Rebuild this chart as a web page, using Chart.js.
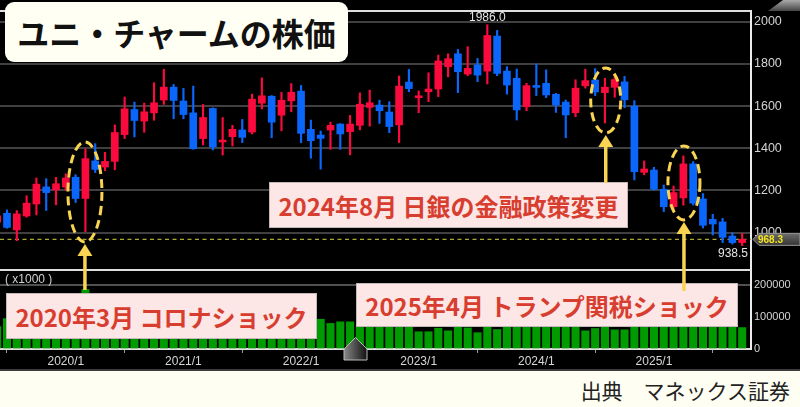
<!DOCTYPE html>
<html><head><meta charset="utf-8">
<script src="https://cdn.jsdelivr.net/npm/chart.js@4.4.1/dist/chart.umd.min.js"></script>
<style>
html,body{margin:0;padding:0;background:#fffef3;}
#stage{position:relative;width:800px;height:407px;overflow:hidden;background:#fffef3;}
#c{position:absolute;left:0;top:0;background:#000;z-index:1;}
#ov{position:absolute;left:0;top:0;z-index:3;pointer-events:none;}
#sep{position:absolute;left:0;top:368px;width:800px;height:3px;background:#3c3c3c;}
.note{position:absolute;z-index:2;background:#fce6e6;border:1px solid #c2b8b8;box-sizing:border-box;color:#d83e2f;font-family:"Noto Sans CJK JP",sans-serif;font-weight:700;font-size:24px;display:flex;align-items:center;justify-content:center;white-space:nowrap;}
#title{position:absolute;z-index:2;left:5px;top:2px;width:343px;height:60px;background:#fffff3;border-radius:9px;font-family:"Noto Sans CJK JP",sans-serif;font-weight:700;font-size:32px;color:#111;display:flex;align-items:center;justify-content:center;white-space:nowrap;}
#src{position:absolute;right:10px;top:376px;font-family:"Noto Sans CJK JP",sans-serif;font-size:21px;color:#222;line-height:28px;white-space:pre;}
#unit{position:absolute;left:5px;top:271px;font-family:"Liberation Sans",Arial,sans-serif;font-size:12px;color:#d0d0d0;z-index:2;line-height:16px;white-space:pre;}
</style></head>
<body><div id="stage">
<canvas id="c" width="800" height="369"></canvas>
<div id="sep"></div>
<div id="title">ユニ・チャームの株価</div>
<div class="note" style="left:6px;top:293px;width:311px;height:46px">2020年3月 コロナショック</div>
<div class="note" style="left:269px;top:182px;width:359px;height:46px">2024年8月 日銀の金融政策変更</div>
<div class="note" style="left:356px;top:283px;width:382px;height:44px">2025年4月 トランプ関税ショック</div>
<div id="unit">( x1000 )</div>
<canvas id="ov" width="800" height="369"></canvas>
<div id="src">出典　マネックス証券</div>
</div>
<script>
const months = [
'2019/6','2019/7','2019/8','2019/9','2019/10','2019/11','2019/12',
'2020/1','2020/2','2020/3','2020/4','2020/5','2020/6','2020/7','2020/8','2020/9','2020/10','2020/11','2020/12',
'2021/1','2021/2','2021/3','2021/4','2021/5','2021/6','2021/7','2021/8','2021/9','2021/10','2021/11','2021/12',
'2022/1','2022/2','2022/3','2022/4','2022/5','2022/6','2022/7','2022/8','2022/9','2022/10','2022/11','2022/12',
'2023/1','2023/2','2023/3','2023/4','2023/5','2023/6','2023/7','2023/8','2023/9','2023/10','2023/11','2023/12',
'2024/1','2024/2','2024/3','2024/4','2024/5','2024/6','2024/7','2024/8','2024/9','2024/10','2024/11','2024/12',
'2025/1','2025/2','2025/3','2025/4','2025/5','2025/6','2025/7','2025/8','2025/9','2025/10'];
const opens = [
1050, 1092,1013,1079,1136,1217,1203,
1216,1263,1162,1340,1311,1338,1465,1584,1529,1568,1629,1690,
1624,1568,1446,1589,1430,1455,1487,1477,1614,1647,1557,1625,
1671,1490,1463,1487,1515,1479,1509,1594,1605,1572,1511,1714,
1640,1668,1681,1787,1848,1752,1795,1766,1932,1766,1732,1597,
1698,1708,1656,1619,1569,1696,1724,1664,1689,1715,1600,1286,
1297,1206,1123,1165,1326,1160,1063,1051,984,953];
const highs = [
1100, 1108,1105,1175,1259,1256,1262,
1279,1275,1397,1422,1381,1511,1643,1619,1614,1711,1775,1703,
1684,1695,1608,1592,1546,1509,1537,1657,1734,1650,1665,1707,
1698,1534,1482,1524,1517,1556,1663,1676,1628,1621,1743,1774,
1672,1758,1842,1848,1869,1882,1826,1986,1959,1787,1776,1708,
1800,1772,1661,1629,1725,1775,1778,1732,1750,1741,1626,1340,
1310,1226,1221,1364,1337,1185,1087,1068,1000,997];
const lows = [
1035, 1021,962,1073,1084,1105,1132,
1200,1143,1005,1285,1294,1298,1446,1454,1476,1533,1608,1540,
1540,1395,1416,1392,1368,1411,1427,1468,1587,1450,1483,1573,
1427,1353,1301,1395,1395,1369,1487,1505,1518,1474,1427,1668,
1569,1621,1645,1739,1664,1744,1716,1705,1744,1657,1534,1578,
1650,1640,1570,1450,1550,1685,1650,1520,1642,1592,1250,1274,
1202,1100,1108,1130,1131,1022,989,953,946,938.5];
const closes = [
1080, 1025,1089,1140,1230,1190,1232,
1259,1162,1351,1300,1338,1475,1587,1532,1573,1616,1690,1627,
1560,1398,1546,1406,1439,1490,1452,1633,1649,1524,1628,1666,
1471,1436,1447,1509,1468,1515,1609,1616,1578,1503,1695,1683,
1649,1681,1814,1825,1763,1779,1747,1935,1755,1700,1582,1697,
1689,1653,1605,1558,1685,1721,1667,1690,1726,1630,1289,1302,
1206,1123,1190,1326,1140,1035,1041,978,953,968.3];
const volumes = [
70000, 95000,110000,90000,100000,85000,90000,
95000,120000,186000,130000,100000,110000,120000,95000,90000,100000,105000,90000,
95000,125000,110000,100000,95000,85000,90000,100000,95000,110000,95000,85000,
120000,110000,93000,80000,85000,85000,80000,80000,78000,80000,75000,80000,
54000,54000,65000,57000,75000,66000,51000,80000,61000,72000,80000,70000,
72000,75000,70000,80000,75000,57000,64000,120000,60000,60000,140000,80000,
90000,85000,80000,150000,100000,110000,90000,95000,80000,67000];
const priceTicks = [1000,1200,1400,1600,1800,2000];
const volumeTicks = [0,100000,200000];
const yearTicks = months.map((m,j)=>m.endsWith('/1')?j:-1).filter(j=>j>=0);

// annotation marks (index on x scale, price centre, ellipse radii in px)
const events = [
  {idx: 8.95, price: 1193, rx: 17, ry: 50, arrowEnd: 290},
  {idx: 62.08, price: 1627, rx: 15, ry: 32.5, arrowEnd: 183},
  {idx: 70.06, price: 1236, rx: 16, ry: 37, arrowEnd: 291}
];

const UP = '#fb0a3d', DOWN = '#0b66fb', GOLD = '#f9d452';
const candleColor = opens.map((o,j)=> closes[j] >= o ? UP : DOWN);
const wickData = months.map((m,j)=>({x:j, y:[lows[j], highs[j]]}));
const bodyData = months.map((m,j)=>({x:j, y:[Math.min(opens[j],closes[j]), Math.max(opens[j],closes[j])]}));
const volData = months.map((m,j)=>({x:j, y:volumes[j]}));

const overlay = {
  id:'overlay',
  beforeDatasetsDraw(chart){
    const {ctx, chartArea:ca, scales:{y}} = chart;
    const yy = y.getPixelForValue(closes[closes.length-1]);
    ctx.save(); ctx.strokeStyle='#a8a832'; ctx.lineWidth=1.2; ctx.setLineDash([4,3.5]);
    ctx.beginPath(); ctx.moveTo(ca.left, yy); ctx.lineTo(ca.right, yy); ctx.stroke(); ctx.restore();
  },
  afterDraw(chart){
    const {ctx, chartArea:ca, scales:{x, y, yv}} = chart;
    ctx.save();
    ctx.strokeStyle='#dedede'; ctx.lineWidth=2;
    [y.top, yv.top].forEach(t=>{ctx.beginPath(); ctx.moveTo(0,t); ctx.lineTo(ca.right,t); ctx.stroke();});
    // ellipses
    ctx.strokeStyle=GOLD; ctx.lineWidth=3; ctx.setLineDash([9,5]);
    events.forEach(e=>{ ctx.beginPath(); ctx.ellipse(x.getPixelForValue(e.idx), y.getPixelForValue(e.price), e.rx, e.ry, 0, 0, Math.PI*2); ctx.stroke(); });
    ctx.setLineDash([]);
    // high / low labels
    const hi = Math.max(...highs), hj = highs.indexOf(hi);
    const lo = Math.min(...lows), lj = lows.indexOf(lo);
    ctx.font='12px "Liberation Sans", Arial, sans-serif'; ctx.fillStyle='#e4e4e4'; ctx.textBaseline='middle';
    ctx.textAlign='center'; ctx.fillText(hi.toFixed(1), x.getPixelForValue(hj), y.getPixelForValue(hi)-7);
    ctx.textAlign='right'; ctx.fillText(lo.toFixed(1), ca.right-3, y.getPixelForValue(lo)+8);
    // last price tag
    const last = closes[closes.length-1], yc = y.getPixelForValue(last), L = ca.right+2;
    ctx.beginPath(); ctx.moveTo(L, yc); ctx.lineTo(L+6, yc-6); ctx.lineTo(800, yc-6); ctx.lineTo(800, yc+6); ctx.lineTo(L+6, yc+6); ctx.closePath();
    let g = ctx.createLinearGradient(0, yc-6, 0, yc+6); g.addColorStop(0,'#6e6e6e'); g.addColorStop(1,'#333');
    ctx.fillStyle=g; ctx.fill(); ctx.strokeStyle='#9a9a9a'; ctx.lineWidth=1; ctx.stroke();
    ctx.font='bold 10px "Liberation Sans", Arial, sans-serif'; ctx.fillStyle='#f4e41c'; ctx.textAlign='left';
    ctx.fillText(last.toFixed(1), L+5, yc+0.5);
    // top-right tab
    ctx.beginPath(); ctx.moveTo(768, y.top); ctx.lineTo(783, 0); ctx.lineTo(800, 0); ctx.lineTo(800, y.top); ctx.closePath();
    g = ctx.createLinearGradient(0,0,0,y.top); g.addColorStop(0,'#aaa'); g.addColorStop(1,'#444');
    ctx.fillStyle=g; ctx.fill();
    // scroll handle
    ctx.beginPath(); ctx.moveTo(344,349); ctx.lineTo(355.5,337.5); ctx.lineTo(367,349); ctx.lineTo(367,360); ctx.lineTo(344,360); ctx.closePath();
    g = ctx.createLinearGradient(344,0,367,0); g.addColorStop(0,'#888'); g.addColorStop(1,'#111');
    ctx.fillStyle=g; ctx.fill(); ctx.strokeStyle='#bbb'; ctx.lineWidth=1; ctx.stroke();
    ctx.restore();
    // arrows on overlay canvas
    const ov = document.getElementById('ov').getContext('2d');
    ov.clearRect(0,0,800,369);
    ov.strokeStyle=GOLD; ov.fillStyle=GOLD; ov.lineWidth=3.5;
    events.forEach(e=>{
      const ax = x.getPixelForValue(e.idx);
      const tip = y.getPixelForValue(e.price) + e.ry + 2;
      ov.beginPath(); ov.moveTo(ax, tip+10); ov.lineTo(ax, e.arrowEnd); ov.stroke();
      ov.beginPath(); ov.moveTo(ax, tip); ov.lineTo(ax-7.5, tip+12); ov.lineTo(ax+7.5, tip+12); ov.closePath(); ov.fill();
    });
  }
};

Chart.defaults.font.family = '"Liberation Sans", Arial, sans-serif';
new Chart(document.getElementById('c'), {
  type:'bar',
  data:{datasets:[
    {label:'出来高', data: volData, yAxisID:'yv', backgroundColor:'#009b00', barThickness:7.4, grouped:false, order:3},
    {label:'ヒゲ', data: wickData, yAxisID:'y', backgroundColor:candleColor, barThickness:1.5, grouped:false, order:2},
    {label:'実体', data: bodyData, yAxisID:'y', backgroundColor:candleColor, barThickness:7, grouped:false, order:1}
  ]},
  options:{
    responsive:false, animation:false, events:[], devicePixelRatio:1,
    layout:{padding:{top:11,left:0,right:0,bottom:0}},
    plugins:{legend:{display:false}, tooltip:{enabled:false}},
    scales:{
      x:{type:'linear', position:'bottom', min:0.286, max:76.9, offset:false,
         afterBuildTicks: s=>{s.ticks = yearTicks.map(v=>({value:v}));},
         afterFit: s=>{s.height=20;},
         ticks:{autoSkip:false, maxRotation:0, color:'#d8d8d8', font:{size:12}, padding:1, callback:v=>months[v]},
         grid:{drawOnChartArea:false, drawTicks:true, tickLength:4, color:'#9a9a9a', lineWidth:1},
         border:{display:true, color:'#e0e0e0', width:2}},
      y:{type:'linear', position:'right', stack:'panes', stackWeight:259, min:823, max:2051, offset:false,
         afterBuildTicks: s=>{s.ticks = priceTicks.map(v=>({value:v}));},
         afterFit: s=>{s.width=49;},
         ticks:{color:'#d4d4d4', font:{size:12.5}, padding:3, callback:v=>String(v)},
         grid:{color:'#404040', lineWidth:2, drawTicks:false},
         border:{display:true, color:'#ececec', width:2}},
      yv:{type:'linear', position:'right', stack:'panes', stackWeight:79, min:0, max:247000, offset:false,
         afterBuildTicks: s=>{s.ticks = volumeTicks.map(v=>({value:v}));},
         afterFit: s=>{s.width=49;},
         ticks:{color:'#d4d4d4', font:{family:'"Liberation Sans Narrow","Liberation Sans",sans-serif', size:11}, padding:3, callback:v=>String(v)},
         grid:{color:c=>(c.tick && c.tick.value===200000)?'#505050':'rgba(0,0,0,0)', lineWidth:2, drawTicks:false},
         border:{display:true, color:'#ececec', width:2}}
    }
  },
  plugins:[overlay]
});
</script>
</body></html>
